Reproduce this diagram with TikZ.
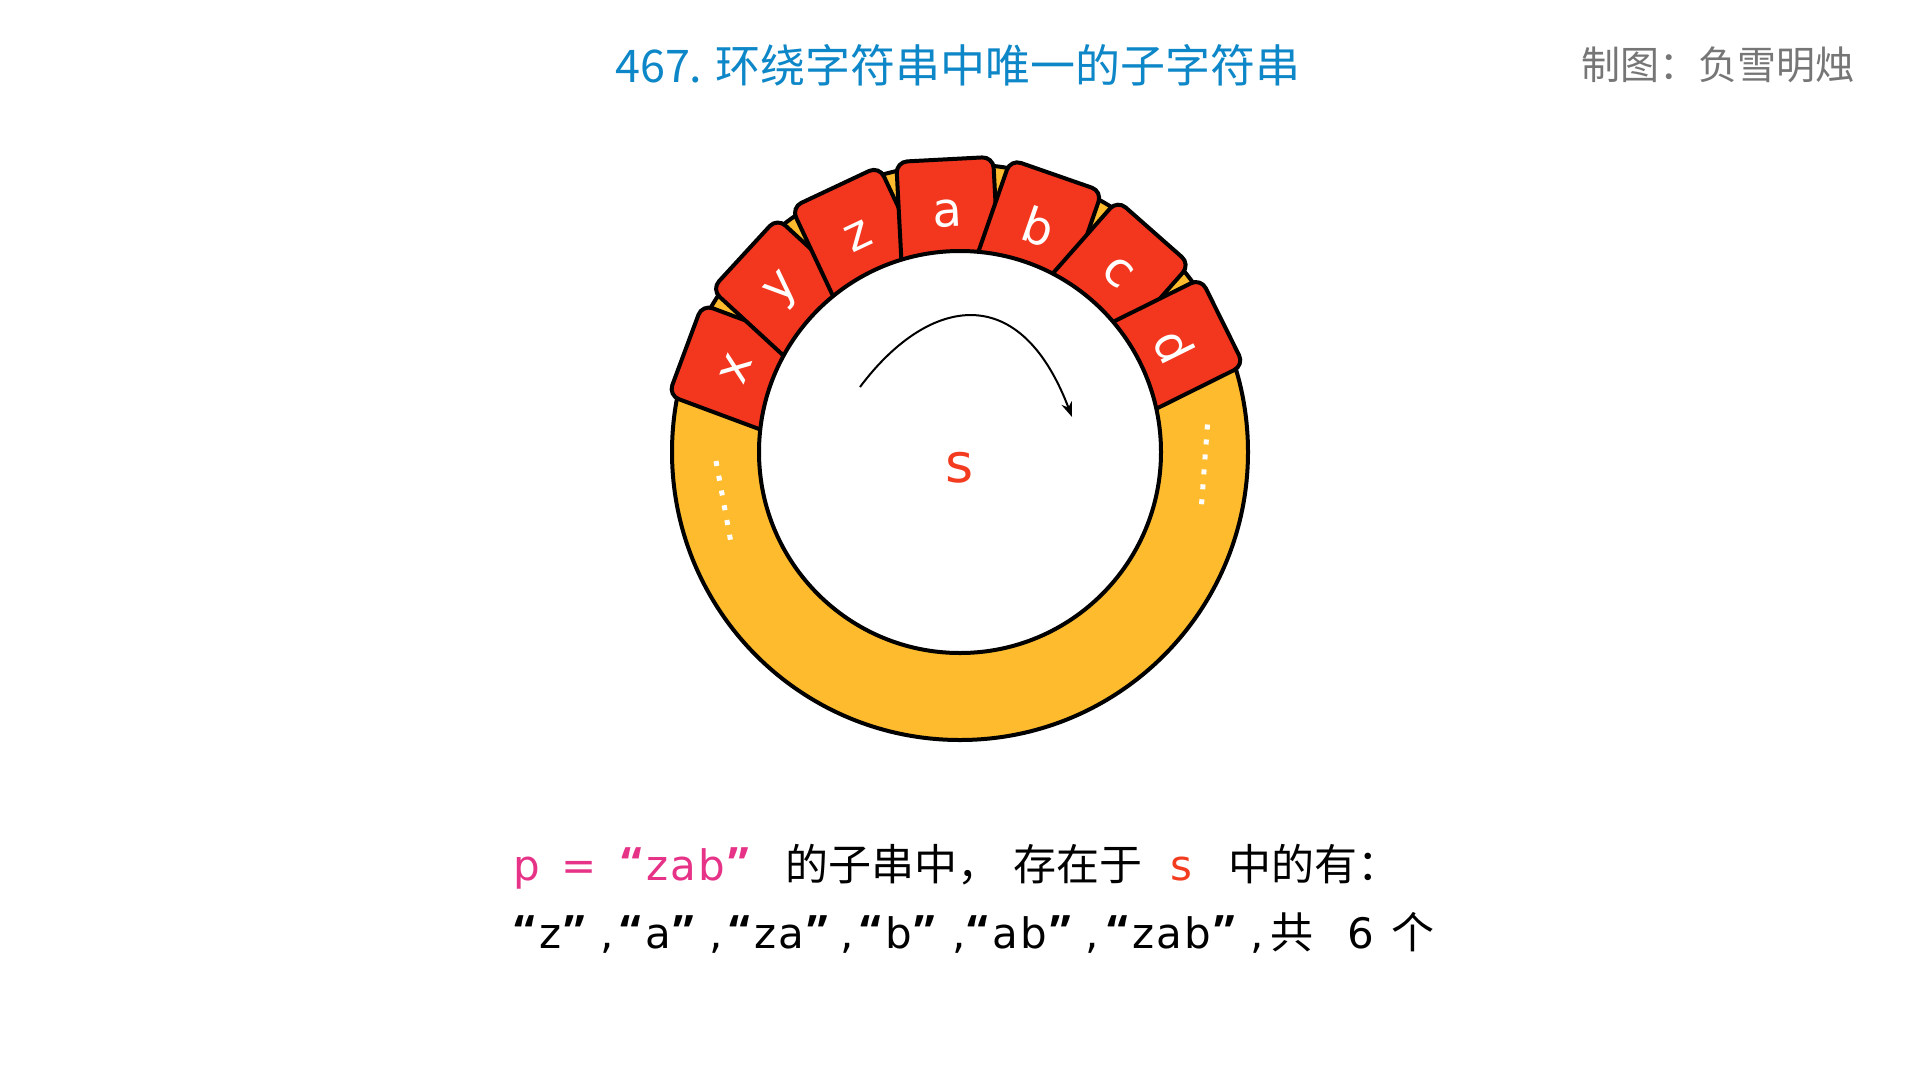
\documentclass[tikz,border=0pt]{standalone}
\usepackage{fontspec}
\setmainfont{DejaVu Sans}
\newfontfamily\cjk{Noto Sans CJK SC}
\newfontfamily\latinwide[LetterSpace=6]{DejaVu Sans}
\newfontfamily\quotefont{Open Sans}
\usetikzlibrary{arrows.meta}
\definecolor{cellred}{RGB}{243,54,30}
\definecolor{ringyellow}{RGB}{253,187,45}
\definecolor{titleblue}{RGB}{14,135,200}
\definecolor{authorgray}{RGB}{118,118,118}
\definecolor{pmagenta}{RGB}{230,50,135}
\definecolor{sred}{RGB}{243,60,31}
\newcommand\putat[2]{\makebox[0pt][l]{\hspace*{#1pt}#2}}
\newcommand\lqm{{\quotefont\bfseries\fontsize{46}{48}\selectfont “}}
\newcommand\rqm{{\quotefont\bfseries\fontsize{46}{48}\selectfont ”}}
\newcommand\qt[1]{\lqm\hspace{4pt}#1\hspace{3pt}\rqm}
\newcommand\cjkbig{\cjk\fontsize{43}{48}\selectfont}
\begin{document}
\begin{tikzpicture}[x=1pt,y=1pt,
  cellbox/.style={draw=black,line width=4pt,fill=cellred,rounded corners=11pt,
    minimum width=97pt,minimum height=108pt,inner sep=0pt,text=white,
    font=\fontsize{48}{48}\selectfont},
  ringdisk/.style={circle,draw=black,line width=4pt,inner sep=0pt},
  dotline/.style={white,line width=5pt,dash pattern=on 5pt off 10pt},
  textline/.style={anchor=base west,inner sep=0pt,font=\latinwide\fontsize{42}{48}\selectfont},
  arrowline/.style={line width=2pt,-{Stealth[length=15pt,width=11pt]}},
]
\useasboundingbox (0,0) rectangle (1920,-1080);
\fill[white] (0,0) rectangle (1920,-1080);

% title and author
\node[text=titleblue,font=\cjk\fontsize{45}{45}\selectfont] (title) at (958,-65) {467. 环绕字符串中唯一的子字符串};
\node[text=authorgray,font=\cjk\fontsize{39}{39}\selectfont,anchor=east] (author) at (1858,-65) {制图：负雪明烛};

% ring
\node[ringdisk,fill=ringyellow,minimum size=576pt] (ring) at (960,-452) {};
\begin{scope}[shift={(960,-452)}]
\foreach \ang/\ch/\nm in {159.6/x/cx,137.4/y/cy,115.2/z/cz,93/a/ca,70.8/b/cb,48.6/c/cc,26.4/d/cd}
  \node[cellbox,rotate=\ang-90] (\nm) at (\ang:239pt) {\ch};
\end{scope}
\node[ringdisk,fill=white,minimum size=402pt] (inner) at (960,-452) {};

% dots
\coordinate (dlA) at (716,-461);
\coordinate (dlB) at (730.5,-540);
\coordinate (drA) at (1207.5,-424.5);
\coordinate (drB) at (1201.5,-505);
\draw[dotline] (dlA) -- (dlB);
\draw[dotline] (drA) -- (drB);

% arrow
\coordinate (arrS) at (860,-387);
\coordinate (arrE) at (1072,-417);
\draw[arrowline] (arrS) .. controls (925,-300) and (1018,-275) .. (arrE);

\node[text=sred,font=\fontsize{54}{54}\selectfont] (slabel) at (960,-468) {s};

% bottom text
\node[textline] (line1) at (0,-880) {%
  \putat{513}{\color{pmagenta}p}%
  \putat{561}{\color{pmagenta}=}%
  \putat{621}{\color{pmagenta}\qt{zab}}%
  \putat{785}{\cjkbig 的子串中，}%
  \putat{1013}{\cjkbig 存在于}%
  \putat{1170}{\color{sred}s}%
  \putat{1228}{\cjkbig 中的有：}};
\node[textline] (line2) at (0,-948) {%
  \putat{514}{\qt{z}}\putat{600}{,}%
  \putat{620}{\qt{a}}\putat{709}{,}%
  \putat{729}{\qt{za}}\putat{840}{,}%
  \putat{860}{\qt{b}}\putat{952}{,}%
  \putat{967}{\qt{ab}}\putat{1085}{,}%
  \putat{1107}{\qt{zab}}\putat{1250}{,}%
  \putat{1270}{\cjkbig 共}%
  \putat{1347}{6}%
  \putat{1391}{\cjkbig 个}};
\end{tikzpicture}
\end{document}
